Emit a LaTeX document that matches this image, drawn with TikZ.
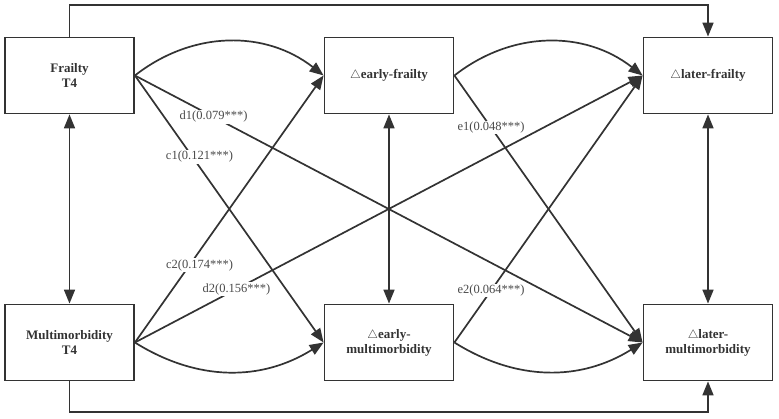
\documentclass[tikz,border=0pt]{standalone}
\usepackage{fontspec}
\setmainfont{Liberation Serif}
\usepackage{tikz}
\usetikzlibrary{arrows.meta}
\definecolor{linegray}{HTML}{333333}
\definecolor{labgray}{HTML}{4A4A4A}

\begin{document}
\begin{tikzpicture}[x=1pt,y=1pt,
    var/.style={draw=linegray,line width=1.8pt,minimum width=129pt,minimum height=76pt,
      inner sep=0pt,align=center,text=linegray,font=\fontsize{13}{15}\selectfont\bfseries},
    link/.style={draw=linegray,line width=1.7pt,-{Triangle[length=14pt,width=11pt]}},
    both/.style={draw=linegray,line width=1.7pt,{Triangle[length=14pt,width=11pt]}-{Triangle[length=14pt,width=11pt]}},
    coef/.style={fill=white,inner sep=1pt,text=labgray,font=\fontsize{12.5}{14}\selectfont}]
  \useasboundingbox (0,0) rectangle (779,419);

   \draw (69.5,343.5) node[var] (frailty) {Frailty\\T4};
   \draw (389,343.5) node[var] (efrail) {$\triangle$early-frailty};
   \draw (708,343.5) node[var] (lfrail) {$\triangle$later-frailty};
   \draw (69.5,76.5) node[var] (multi) {Multimorbidity\\T4};
   \draw (389,76.5) node[var] (emulti) {$\triangle$early-\\multimorbidity};
   \draw (708,76.5) node[var] (lmulti) {$\triangle$later-\\multimorbidity};
   \coordinate (topleft) at (69.5,414);
   \coordinate (botleft) at (69.5,7);

   % autoregressive paths
   \path (frailty.east) edge[link,bend left=38] (efrail.west);
   \path (efrail.east) edge[link,bend left=38] (lfrail.west);
   \path (multi.east) edge[link,bend right=32] (emulti.west);
   \path (emulti.east) edge[link,bend right=32] (lmulti.west);
   \draw[link] (frailty.north) -- (topleft) -| (lfrail.north);
   \draw[link] (multi.south) -- (botleft) -| (lmulti.south);

   % correlations
   \path (frailty.south) edge[both] (multi.north);
   \path (efrail.south) edge[both] (emulti.north);
   \path (lfrail.south) edge[both] (lmulti.north);

   % cross-lagged paths
   \path (frailty.east) edge[link] node[coef,pos=0.305,xshift=7pt] {c1(0.121***)} (emulti.west);
   \path (multi.east) edge[link] node[coef,pos=0.29,xshift=10pt] {c2(0.174***)} (efrail.west);
   \path (frailty.east) edge[link] node[coef,pos=0.155] {d1(0.079***)} (lmulti.west);
   \path (multi.east) edge[link] node[coef,pos=0.2] {d2(0.156***)} (lfrail.west);
   \path (efrail.east) edge[link] node[coef,pos=0.195] {e1(0.048***)} (lmulti.west);
   \path (emulti.east) edge[link] node[coef,pos=0.195] {e2(0.064***)} (lfrail.west);
\end{tikzpicture}
\end{document}
